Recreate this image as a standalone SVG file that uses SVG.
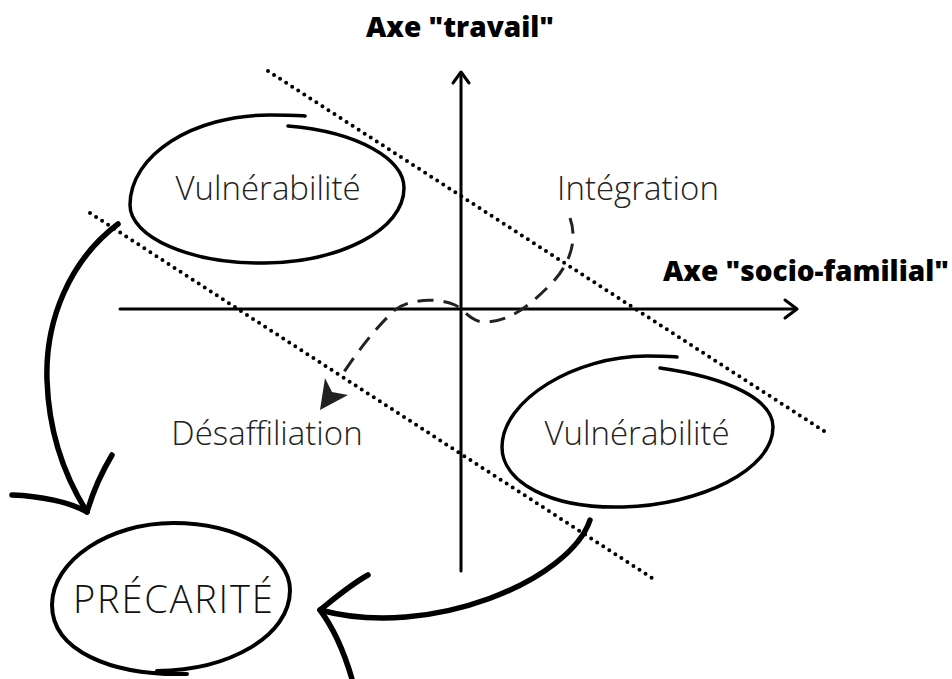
<svg xmlns="http://www.w3.org/2000/svg" width="952" height="679" viewBox="0 0 952 679">
<style>
.title{font-family:"Open Sans","Liberation Sans",sans-serif;font-weight:800;fill:#000;font-size:28px}
.lbl{font-family:"Open Sans","Liberation Sans",sans-serif;font-weight:300;fill:#222;font-size:33px}
.big{font-family:"Open Sans","Liberation Sans",sans-serif;font-weight:300;fill:#111;font-size:38px;letter-spacing:1.8px}
.axis{stroke:#000;stroke-width:3;fill:none;stroke-linecap:round;stroke-linejoin:round}
.dot{stroke:#000;stroke-width:4;fill:none;stroke-linecap:round;stroke-dasharray:0 7.2}
.hand{stroke:#000;stroke-width:3.5;fill:none;stroke-linecap:round;stroke-linejoin:round}
.thick{stroke:#000;stroke-width:5.5;fill:none;stroke-linecap:round;stroke-linejoin:round}
.dash{stroke:#222;stroke-width:3;fill:none;stroke-dasharray:16 10}
</style>
<rect width="952" height="679" fill="#fff"/>
<g id="axes">
<path class="axis" d="M461,73 V571"/>
<path class="axis" d="M453,83 L461,72 L469,83"/>
<path class="axis" d="M120,309 H796"/>
<path class="axis" d="M785,300 L797,309 L785,318"/>
<text class="title" x="460" y="37" text-anchor="middle">Axe "travail"</text>
<text class="title" x="663" y="281">Axe "socio-familial"</text>
</g>
<g id="boundaries">
<path class="dot" d="M268,71 L830,435"/>
<path class="dot" d="M90,213 L652,578"/>
</g>
<g id="vuln-top">
<path class="hand" d="M288,126 C360,132 404,160 404,188 C404,230 340,262 265,263 C190,264 130,237 130,205 C130,155 193,115 270,115 C285,115 297,115 305,116"/>
<text class="lbl" x="268" y="200" text-anchor="middle">Vulnérabilité</text>
</g>
<g id="vuln-bottom">
<path class="hand" d="M660,368 C730,378 773,400 773,427 C773,470 700,505 623,507 C550,509 502,482 502,447 C502,400 575,356 647,356 C660,356 670,356 677,357"/>
<text class="lbl" x="637" y="445" text-anchor="middle">Vulnérabilité</text>
</g>
<g id="integration">
<text class="lbl" x="638" y="200" text-anchor="middle">Intégration</text>
</g>
<g id="desaffiliation">
<text class="lbl" x="267" y="445" text-anchor="middle">Désaffiliation</text>
</g>
<g id="precarite">
<path class="hand" d="M187,674 C110,676 52,650 52,605 C52,560 110,523 173,523 C240,523 290,555 290,590 C290,636 230,670 157,671" style="stroke-width:4"/>
<text class="big" x="73" y="613">PRÉCARITÉ</text>
</g>
<g id="connectors">
<path class="dash" d="M570,218 C578,240 570,265 550,285 C530,305 510,322 485,322 C470,322 465,310 455,305 C440,298 410,298 395,310 C375,328 355,355 340,378"/>
<path d="M320,410 L325,378 L332,392 L348,395 Z" fill="#222"/>
<path class="thick" d="M118,224 C70,260 45,320 47,380 C49,440 70,485 87,512"/>
<path class="thick" d="M112,455 C100,475 92,495 87,512 M12,495 C40,496 70,502 87,512"/>
<path class="thick" d="M590,520 C570,580 430,640 320,610"/>
<path class="thick" d="M368,575 C350,585 335,598 320,610 C335,630 345,655 352,679"/>
</g>
</svg>
